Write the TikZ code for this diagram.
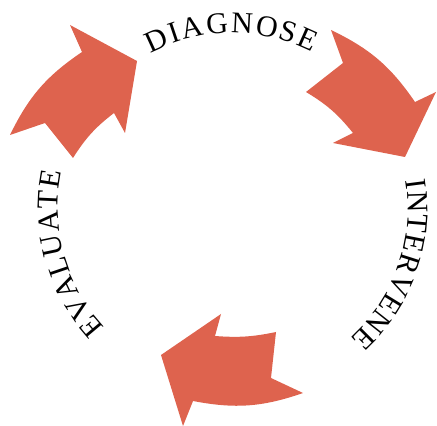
\documentclass[tikz,border=0pt]{standalone}
\usepackage{fontspec}
\setmainfont{Liberation Serif}
\usetikzlibrary{decorations.text}
\definecolor{arrowred}{RGB}{222,99,78}
\newcommand{\labelfont}{\fontsize{30}{30}\selectfont}

\begin{document}
\begin{tikzpicture}[x=1pt,y=1pt,
  arrowshape/.style={fill=arrowred},
  cyclelabel/.style={decorate,decoration={text along path,text align={fit to path},text={|\labelfont|#1}}}]
\useasboundingbox (0,0) rectangle (437,426);
\coordinate (c) at (233,218);
\fill[arrowshape] (10,291) -- (45,303) -- (73,268) to[bend left=10] (114,313) -- (125,293)
  -- (137,365) -- (70,401) -- (82,374) to[bend right=15] (10,291) -- cycle;
\fill[arrowshape] (331,396) -- (343,363) -- (306,334) to[bend left=10] (353,293) -- (333,283)
  -- (405,269) -- (436,334) -- (415,324) to[bend right=15] (331,396) -- cycle;
\fill[arrowshape] (161,71) -- (221,112) -- (215,90) to[bend right=8] (276,94) -- (271,48)
  -- (303,33) to[bend left=15] (193,25) -- (183,0) -- cycle;
\begin{scope}[shift={(c)}]
\path[cyclelabel=DIAGNOSE] (118:175) arc[start angle=118,end angle=63,radius=175];
\path[cyclelabel=INTERVENE] (9:175) arc[start angle=9,end angle=-48,radius=175];
\path[cyclelabel=EVALUATE] (223:175) arc[start angle=223,end angle=168,radius=175];
\end{scope}
\end{tikzpicture}
\end{document}
